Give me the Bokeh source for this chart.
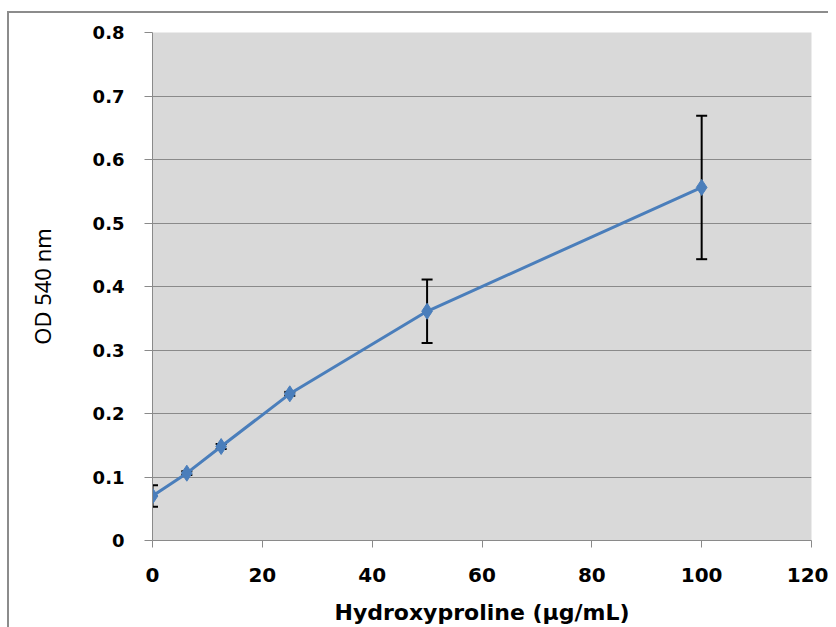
from bokeh.plotting import figure
from bokeh.models import ColumnDataSource, Whisker, TeeHead, FixedTicker
from bokeh.embed import file_html
from bokeh.resources import INLINE

# Data
conc = [0, 6.25, 12.5, 25, 50, 100]
od = [0.070, 0.106, 0.148, 0.231, 0.361, 0.556]
err = [0.017, 0.003, 0.004, 0.003, 0.050, 0.113]
x_ticks = [0, 20, 40, 60, 80, 100, 120]
y_ticks = [0, 0.1, 0.2, 0.3, 0.4, 0.5, 0.6, 0.7, 0.8]
x_title = "Hydroxyproline (µg/mL)"
y_title = "OD 540 nm"

src = ColumnDataSource(dict(
    x=conc, y=od,
    upper=[v + e for v, e in zip(od, err)],
    lower=[v - e for v, e in zip(od, err)],
))

p = figure(width=828, height=627, output_backend="svg", toolbar_location=None,
           x_range=(0, 120), y_range=(0, 0.8),
           min_border_left=152, min_border_top=32, min_border_right=17, min_border_bottom=87)
# outer chart-area border (left and top edges only visible)
p.styles = {
    "background-color": "white",
    "background-image": "linear-gradient(#8c8c8c,#8c8c8c), linear-gradient(#8c8c8c,#8c8c8c)",
    "background-size": "2px 100%, 100% 2px",
    "background-position": "7px 11px, 7px 11px",
    "background-repeat": "no-repeat",
}

p.border_fill_color = None
p.background_fill_color = "#d9d9d9"
p.outline_line_color = None

p.xgrid.grid_line_color = None
p.ygrid.grid_line_color = "#8a8a8a"
p.ygrid.grid_line_width = 1

for ax in (p.xaxis[0], p.yaxis[0]):
    ax.axis_line_color = "#8a8a8a"
    ax.major_tick_line_color = "#8a8a8a"
    ax.minor_tick_line_color = None
    ax.major_tick_in = 0
    ax.major_label_text_font = "DejaVu Sans"
    ax.major_label_text_font_style = "bold"
    ax.major_label_text_color = "black"

p.xaxis.major_tick_out = 7
p.yaxis.major_tick_out = 8
p.xaxis.major_label_text_font_size = "20px"
p.yaxis.major_label_text_font_size = "18px"

p.xaxis.ticker = FixedTicker(ticks=x_ticks)
p.yaxis.ticker = FixedTicker(ticks=y_ticks)
p.yaxis.major_label_overrides = {0: "0"}
p.xaxis.major_label_standoff = 20
p.yaxis.major_label_standoff = 20

p.xaxis.axis_label = x_title
p.xaxis.axis_label_text_font = "DejaVu Sans"
p.xaxis.axis_label_text_font_style = "bold"
p.xaxis.axis_label_text_font_size = "22px"
p.xaxis.axis_label_text_color = "black"
p.xaxis.axis_label_standoff = 15

p.yaxis.axis_label = y_title
p.yaxis.axis_label_text_font = "Noto Sans"
p.yaxis.axis_label_text_font_style = "normal"
p.yaxis.axis_label_text_font_size = "22px"
p.yaxis.axis_label_text_color = "black"
p.yaxis.axis_label_standoff = 33

p.line("x", "y", source=src, line_color="#4a7ebb", line_width=3)

w = Whisker(source=src, base="x", upper="upper", lower="lower",
            line_color="black", line_width=2,
            upper_head=TeeHead(size=11, line_color="black", line_width=2),
            lower_head=TeeHead(size=11, line_color="black", line_width=2))
p.add_layout(w)

p.scatter("x", "y", source=src, marker="diamond", size=16,
          fill_color="#4a7ebb", line_color="#4a7ebb")

open("out.html", "w").write(file_html(p, INLINE))
